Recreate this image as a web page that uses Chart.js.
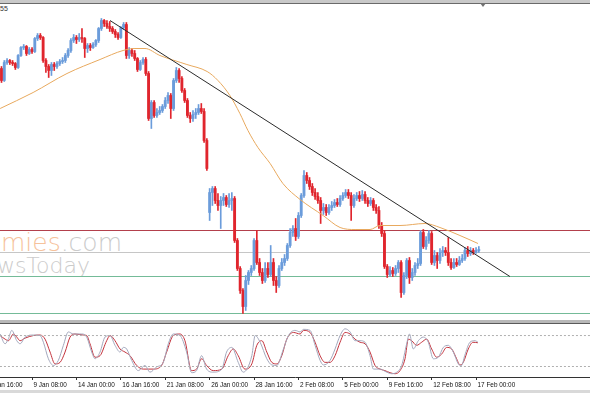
<!DOCTYPE html>
<html><head><meta charset="utf-8">
<script src="https://cdn.jsdelivr.net/npm/chart.js@4.4.1/dist/chart.umd.min.js"></script>
<style>
html,body{margin:0;padding:0;background:#fff;}
#wrap{position:relative;width:590px;height:393px;overflow:hidden;background:#fff;font-family:"Liberation Sans",Arial,sans-serif;}
#topband{position:absolute;left:0;top:0;width:590px;height:3px;background:#c9c9c9;}
#topline{position:absolute;left:0;top:3px;width:590px;height:1px;background:#6a6a6a;}
#shift{position:absolute;left:480px;top:3px;width:0;height:0;border-left:3px solid transparent;border-right:3px solid transparent;border-top:4px solid #707070;}
#sym{position:absolute;left:0;top:5px;font-size:7px;color:#333;}
.wm{position:absolute;white-space:nowrap;font-family:"DejaVu Sans",sans-serif;font-weight:200;color:#cbcbcb;line-height:1;}
#wm1{right:468px;top:230px;font-size:25px;}
#wm1 .o{color:#f6c29b;}
#wm2{right:500px;top:255px;font-size:22px;}
canvas{position:absolute;left:0;}
#main{top:4px;}
#sep{position:absolute;left:0;top:320px;width:590px;height:3px;background:#b8b8b8;}
#sepline{position:absolute;left:0;top:323px;width:590px;height:1px;background:#5a5a5a;}
#osc{top:323px;}
#botband{position:absolute;left:0;top:390px;width:590px;height:3px;background:#d9d9d9;}
</style></head><body>
<div id="wrap">
 <div id="topband"></div>
 <div id="topline"></div>
 <div id="shift"></div>
 <div id="sym">55</div>
 <div class="wm" id="wm1"><span class="o">Economies</span>.com</div>
 <div class="wm" id="wm2">NewsToday</div>
 <canvas id="main" width="590" height="314"></canvas>
 <div id="sep"></div>
 <canvas id="osc" width="590" height="70"></canvas>
 <div id="sepline"></div>
 <div id="botband"></div>
</div>
<script>
// ---- candle data (H4 bars, index 0 = 7 Jan 12:00) ----
const open = [
252,240,258,260,258,257,253,265,273,274,
267,271,269,282,285,283,260,254,250,256,
254,257,259,260,265,270,280,283,281,283,
282,272,275,273,276,280,292,300,297,294,
292,289,286,283,293,296,265,270,267,262,
251,258,261,247,202,218,205,208,210,214,
220,225,212,240,250,242,230,220,205,202,
206,208,212,209,180,108,128,132,120,115,
120,123,116,120,122,80,52,30,14,40,
48,52,80,58,48,40,52,46,58,40,
35,52,58,62,75,88,92,84,105,125,
145,140,134,128,124,120,110,113,108,113,
115,118,116,122,125,128,125,115,122,125,
122,126,120,117,120,113,110,95,87,54,
46,50,47,52,58,28,45,60,43,48,
55,57,88,74,80,87,58,65,60,68,
70,68,58,53,58,56,60,62,70,67,
70,68,70];
const close = [
240,258,260,258,257,253,265,273,274,267,
271,269,282,285,283,260,254,250,256,254,
257,259,260,265,270,280,283,281,283,282,
272,275,273,276,280,292,300,297,294,292,
289,286,283,293,296,265,270,267,262,251,
258,261,247,202,218,205,208,210,214,220,
225,212,240,250,242,230,220,205,202,206,
208,212,209,180,152,128,132,120,115,120,
123,116,120,122,80,52,30,14,40,48,
52,80,58,48,40,52,46,58,40,35,
52,58,62,75,88,92,84,105,125,145,
140,134,128,124,120,110,113,108,113,115,
118,116,122,125,128,125,115,122,125,122,
126,120,117,120,113,110,95,87,54,46,
50,47,52,58,28,45,60,43,48,55,
57,88,74,80,87,58,65,60,68,70,
68,58,53,58,56,60,62,70,67,70,
68,70,71];
const high = [
254,260,262,261,260,258,266,274,276,275,
273,273,283,287,287,284,262,256,258,258,
259,261,263,267,272,282,286,285,287,292,
283,277,277,278,281,293,302,301,300,299,
294,291,288,294,298,298,273,272,270,263,
260,263,263,249,220,220,212,214,216,223,
228,227,242,253,252,244,232,222,208,210,
212,216,217,212,182,132,134,134,127,124,
127,125,127,128,124,82,54,32,45,50,
55,82,90,62,52,58,58,75,62,44,
55,62,66,77,92,95,102,108,127,150,
148,143,137,132,128,123,117,116,116,119,
121,122,125,128,131,131,128,126,128,129,
130,129,123,123,122,116,114,98,90,56,
54,53,55,60,60,48,62,63,52,58,
62,90,91,84,90,89,70,68,72,74,
73,83,62,62,62,64,66,73,74,73,
72,73,74];
const low = [
238,239,256,256,255,251,252,264,271,265,
266,267,268,280,281,258,248,243,245,250,
252,255,257,258,263,268,278,277,279,278,
263,268,270,272,274,278,290,294,292,289,
287,283,281,282,291,262,262,264,260,249,
250,256,245,200,192,203,203,206,208,212,
217,202,210,238,238,228,218,203,198,199,
202,206,207,178,150,100,115,117,110,92,
115,114,113,110,78,50,27,7,10,36,
45,50,56,45,37,38,43,44,35,28,
33,50,55,60,73,84,80,82,103,123,
137,131,125,121,117,97,106,105,106,110,
113,114,114,120,123,122,100,113,120,119,
120,117,114,115,110,107,92,84,52,43,
44,44,45,48,23,26,42,37,40,45,
52,55,72,71,77,56,55,52,57,64,
65,55,51,52,54,55,58,60,64,65,
66,67,68];

// moving average (read at sample positions)
const maIdx = [-0.5,11.4,23.6,35.5,43.8,48.1,51.7,57.1,66.8,74.1,78.0,82.3,85.9,88.8,92.4,96.8,101.4,107.6,115.9,122.0,127.4,132.8,136.4,143.6,152.6,158.0,165.2,171.7];
const maVal = [212,228,247,261,270,272,272,265,256,249,240,225,207,190,173,157,137,121,105,93,91,91,95,95,97,93,85,77];

// trend line end points
const trendIdx = [39.1, 183.2];
const trendVal = [300, 44];

// horizontal levels: resistance, mid, support 1, support 2
const levelVals = [90, 68, 44, 7];

// stochastic %K / %D
const kIdx = [-0.5,1.3,2.5,3.7,5.5,6.7,8.5,11.5,13.9,15.1,16.9,18.7,20.5,22.3,24.1,25.9,28.9,30.7,32.5,33.7,35.5,37.3,39.1,40.9,42.7,43.9,45.1,46.9,49.3,51.7,53.5,55.9,58.3,60.1,61.9,64.3,66.7,68.5,70.3,72.1,73.9,76.3,79.4,81.1,83.0,85.3,87.1,90.2,91.4,93.2,95.6,97.4,99.2,101.6,103.4,105.8,107.6,108.8,111.2,113.0,114.8,116.0,118.4,120.2,122.0,123.8,125.6,127.4,129.2,131.0,132.8,134.0,136.4,138.8,140.6,142.4,144.2,146.0,147.0,148.4,150.2,152.0,153.8,155.6,157.4,159.2,161.0,162.8,164.6,165.8,166.9,168.8,170.6,171.7];
const kVal = [83,64,74,90,70,64,77,81,80,67,35,22,32,61,87,83,83,77,48,35,48,77,80,61,48,57,54,32,12,22,9,19,28,64,83,80,48,8,12,41,15,9,15,48,57,28,9,41,80,67,35,23,22,54,80,90,87,92,90,61,32,23,32,54,80,93,87,70,70,67,41,15,15,9,6,9,22,64,83,54,70,77,67,35,38,57,61,48,25,22,41,67,70,67];
const dIdx = [-0.5,1.3,2.5,4.3,5.5,6.7,8.5,11.5,13.9,15.7,17.5,19.3,21.1,22.9,24.7,26.5,29.5,30.7,31.9,33.7,35.5,37.9,39.1,40.9,42.7,44.5,46.3,48.7,51.1,52.9,54.7,57.7,59.5,61.9,64.3,66.1,68.5,70.3,72.1,73.9,76.3,79.4,81.7,83.5,85.3,87.7,90.2,92.0,93.8,95.6,97.4,99.2,101.0,102.8,105.2,107.6,108.8,111.2,113.0,114.8,116.6,118.4,120.2,122.0,123.8,125.6,127.4,129.2,131.0,132.8,134.6,136.4,138.2,140.0,141.8,143.6,145.4,146.6,147.8,149.6,151.4,153.2,155.0,156.8,158.6,160.4,162.2,164.0,165.2,166.4,168.2,169.9,171.7];
const dVal = [80,73,70,83,77,70,75,80,81,73,48,25,28,48,77,83,81,80,64,38,41,70,80,70,54,48,41,22,15,15,15,22,48,80,83,70,12,15,35,22,12,15,41,54,41,15,25,61,70,48,28,25,41,73,86,83,90,86,67,41,28,28,41,67,86,83,73,67,64,48,22,15,12,8,6,12,35,73,70,61,67,73,54,38,44,57,54,35,23,28,54,67,66];
const stochLevels = [80, 20];

// time axis
const tickIdx = [-5,11,27,43,59,75,91,107,123,139,155,171];
const tickLabels = ["6 Jan 16:00","9 Jan 08:00","14 Jan 00:00","16 Jan 16:00","21 Jan 08:00","26 Jan 00:00","28 Jan 16:00","2 Feb 08:00","5 Feb 00:00","9 Feb 16:00","12 Feb 08:00","17 Feb 00:00"];

// ---- drawing ----
const X_MIN = -0.54, X_MAX = 212.06;
const UP = '#6b9cdb', DOWN = '#e0252d';
const zip = (a, b) => a.map((v, i) => ({x: v, y: b[i]}));
const candleColor = ctx => (close[ctx.dataIndex] >= open[ctx.dataIndex] ? UP : DOWN);
const levelColors = ['#b3404c', '#c6c6c6', '#74bb98', '#74bb98'];

const mainDatasets = [];
levelVals.forEach((v, i) => {
  mainDatasets.push({type: 'line', data: [{x: -2, y: v}, {x: 215, y: v}], borderColor: levelColors[i], borderWidth: 1, pointRadius: 0, order: 6});
});
mainDatasets.push({
  type: 'bar', data: close.map((c, i) => ({x: i, y: [low[i], high[i]]})),
  backgroundColor: candleColor, barThickness: 1, grouped: false, borderWidth: 0, order: 5
});
mainDatasets.push({
  type: 'bar', data: close.map((c, i) => ({x: i, y: [open[i], c]})),
  backgroundColor: candleColor, barThickness: 2.2, grouped: false, borderWidth: 0, minBarLength: 1, order: 4
});
mainDatasets.push({type: 'line', data: zip(maIdx, maVal), borderColor: '#e8a95e', borderWidth: 1, pointRadius: 0, cubicInterpolationMode: 'monotone', order: 3});
mainDatasets.push({type: 'line', data: zip(trendIdx, trendVal), borderColor: '#2b2b2b', borderWidth: 1, pointRadius: 0, order: 2});

new Chart(document.getElementById('main'), {
  type: 'bar',
  data: {datasets: mainDatasets},
  options: {
    responsive: false, animation: false, devicePixelRatio: 1, events: [],
    layout: {padding: 0},
    plugins: {legend: {display: false}, tooltip: {enabled: false}},
    scales: {
      x: {type: 'linear', min: X_MIN, max: X_MAX, offset: false, display: false},
      y: {type: 'linear', min: 2.5, max: 316.5, display: false}
    }
  }
});

new Chart(document.getElementById('osc'), {
  type: 'line',
  data: {datasets: [
    {data: [{x: -2, y: stochLevels[0]}, {x: 215, y: stochLevels[0]}], borderColor: '#b0b0b0', borderWidth: 1, borderDash: [2, 2], pointRadius: 0},
    {data: [{x: -2, y: stochLevels[1]}, {x: 215, y: stochLevels[1]}], borderColor: '#b0b0b0', borderWidth: 1, borderDash: [2, 2], pointRadius: 0},
    {data: zip(kIdx, kVal), borderColor: '#a3a8bd', borderWidth: 1, pointRadius: 0, cubicInterpolationMode: 'monotone'},
    {data: zip(dIdx, dVal), borderColor: '#c3323c', borderWidth: 1, pointRadius: 0, cubicInterpolationMode: 'monotone'}
  ]},
  options: {
    responsive: false, animation: false, devicePixelRatio: 1, events: [],
    layout: {padding: 0},
    plugins: {legend: {display: false}, tooltip: {enabled: false}},
    scales: {
      x: {
        type: 'linear', min: X_MIN, max: X_MAX, offset: false,
        afterBuildTicks: s => { s.ticks = tickIdx.map(v => ({value: v})); },
        afterFit: s => { s.height = 16; s.paddingLeft = 0; s.paddingRight = 0; },
        grid: {display: true, drawOnChartArea: false, drawTicks: true, tickLength: 3, color: '#333'},
        border: {display: true, color: '#333', width: 1},
        ticks: {
          autoSkip: false, maxRotation: 0, minRotation: 0, align: 'start', labelOffset: 1.5, padding: 1,
          color: '#111', font: {family: 'Liberation Sans', size: 6.4},
          callback: (v, i) => tickLabels[i]
        }
      },
      y: {type: 'linear', min: -0.35, max: 104.3, display: false}
    }
  }
});
</script>
</body></html>
